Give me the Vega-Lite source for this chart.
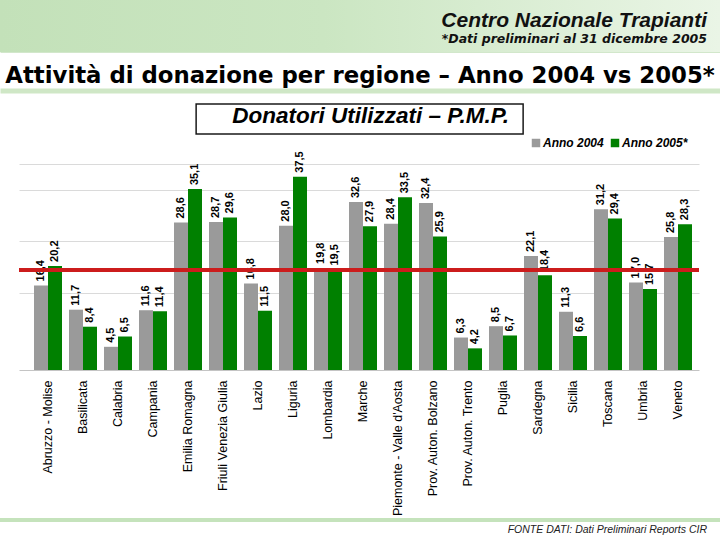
{
  "$schema": "https://vega.github.io/schema/vega-lite/v6.json",
  "background": "white",
  "padding": 0,
  "spacing": 0,
  "center": true,
  "config": {
    "locale": {"number": {"decimal": ",", "thousands": ".", "grouping": [3], "currency": ["", " €"]}},
    "view": {"stroke": null},
    "font": "Liberation Sans"
  },
  "resolve": {"scale": {"color": "independent"}, "legend": {"color": "independent"}},
  "vconcat": [
    {
      "width": 720,
      "height": 52,
      "data": {"values": [{}]},
      "title": {
        "text": "Centro Nazionale Trapianti",
        "subtitle": "*Dati preliminari al 31 dicembre 2005",
        "orient": "top",
        "anchor": "end",
        "frame": "group",
        "offset": -45.6,
        "dx": -13,
        "font": "Liberation Sans",
        "fontSize": 21,
        "fontStyle": "italic",
        "fontWeight": "bold",
        "color": "#111111",
        "subtitleFont": "DejaVu Sans",
        "subtitleFontSize": 12.5,
        "subtitleFontStyle": "italic",
        "subtitleFontWeight": "bold",
        "subtitleColor": "#111111",
        "subtitlePadding": 2
      },
      "mark": {
        "type": "rect",
        "color": {
          "gradient": "linear",
          "x1": 0, "y1": 0, "x2": 1, "y2": 0,
          "stops": [
            {"offset": 0, "color": "#c3e1b9"},
            {"offset": 0.45, "color": "#cbe6c2"},
            {"offset": 1, "color": "#eaf5e6"}
          ]
        }
      },
      "encoding": {
        "x": {"datum": 0, "type": "quantitative", "scale": {"domain": [0, 1], "nice": false, "zero": false},
              "axis": {"orient": "bottom", "labels": false, "ticks": false, "grid": false, "title": null,
                       "domainColor": "#a6cf98", "domainWidth": 2, "offset": -1, "minExtent": 0, "maxExtent": 0}},
        "x2": {"datum": 1},
        "y": {"datum": 0, "type": "quantitative", "scale": {"domain": [0, 1], "nice": false, "zero": false}, "axis": null},
        "y2": {"datum": 1}
      }
    },
    {
      "width": 720,
      "height": 36,
      "data": {"values": [{}]},
      "mark": {
        "type": "text",
        "text": "Attività di donazione per regione – Anno 2004 vs 2005*",
        "font": "DejaVu Sans",
        "fontSize": 22.8,
        "fontWeight": "bold",
        "color": "#000000",
        "align": "center",
        "baseline": "alphabetic",
        "dy": 13
      },
      "encoding": {
        "x": {"datum": 0.5, "type": "quantitative", "scale": {"domain": [0, 1], "nice": false, "zero": false},
              "axis": {"orient": "bottom", "labels": false, "ticks": false, "grid": false, "title": null,
                       "domainColor": "#cfe7c6", "domainWidth": 5, "offset": 2.5, "minExtent": 12.5}}
      }
    },
    {
      "width": 327,
      "height": 30,
      "view": {"stroke": "#1a1a1a", "strokeWidth": 1.5, "fill": "white"},
      "data": {"values": [{}]},
      "mark": {
        "type": "text",
        "text": "Donatori Utilizzati – P.M.P.",
        "font": "Liberation Sans",
        "fontSize": 22.5,
        "fontStyle": "italic",
        "fontWeight": "bold",
        "color": "#000000",
        "align": "center",
        "baseline": "alphabetic",
        "dx": 11,
        "dy": 4
      }
    },
    {
      "width": 680,
      "height": 235,
      "data": {
        "values": [
          {"regione": "Abruzzo - Molise", "anno": "Anno 2004", "valore": 16.4},
          {"regione": "Abruzzo - Molise", "anno": "Anno 2005*", "valore": 20.2},
          {"regione": "Basilicata", "anno": "Anno 2004", "valore": 11.7},
          {"regione": "Basilicata", "anno": "Anno 2005*", "valore": 8.4},
          {"regione": "Calabria", "anno": "Anno 2004", "valore": 4.5},
          {"regione": "Calabria", "anno": "Anno 2005*", "valore": 6.5},
          {"regione": "Campania", "anno": "Anno 2004", "valore": 11.6},
          {"regione": "Campania", "anno": "Anno 2005*", "valore": 11.4},
          {"regione": "Emilia Romagna", "anno": "Anno 2004", "valore": 28.6},
          {"regione": "Emilia Romagna", "anno": "Anno 2005*", "valore": 35.1},
          {"regione": "Friuli Venezia Giulia", "anno": "Anno 2004", "valore": 28.7},
          {"regione": "Friuli Venezia Giulia", "anno": "Anno 2005*", "valore": 29.6},
          {"regione": "Lazio", "anno": "Anno 2004", "valore": 16.8},
          {"regione": "Lazio", "anno": "Anno 2005*", "valore": 11.5},
          {"regione": "Liguria", "anno": "Anno 2004", "valore": 28.0},
          {"regione": "Liguria", "anno": "Anno 2005*", "valore": 37.5},
          {"regione": "Lombardia", "anno": "Anno 2004", "valore": 19.8},
          {"regione": "Lombardia", "anno": "Anno 2005*", "valore": 19.5},
          {"regione": "Marche", "anno": "Anno 2004", "valore": 32.6},
          {"regione": "Marche", "anno": "Anno 2005*", "valore": 27.9},
          {"regione": "Piemonte - Valle d'Aosta", "anno": "Anno 2004", "valore": 28.4},
          {"regione": "Piemonte - Valle d'Aosta", "anno": "Anno 2005*", "valore": 33.5},
          {"regione": "Prov. Auton. Bolzano", "anno": "Anno 2004", "valore": 32.4},
          {"regione": "Prov. Auton. Bolzano", "anno": "Anno 2005*", "valore": 25.9},
          {"regione": "Prov. Auton. Trento", "anno": "Anno 2004", "valore": 6.3},
          {"regione": "Prov. Auton. Trento", "anno": "Anno 2005*", "valore": 4.2},
          {"regione": "Puglia", "anno": "Anno 2004", "valore": 8.5},
          {"regione": "Puglia", "anno": "Anno 2005*", "valore": 6.7},
          {"regione": "Sardegna", "anno": "Anno 2004", "valore": 22.1},
          {"regione": "Sardegna", "anno": "Anno 2005*", "valore": 18.4},
          {"regione": "Sicilia", "anno": "Anno 2004", "valore": 11.3},
          {"regione": "Sicilia", "anno": "Anno 2005*", "valore": 6.6},
          {"regione": "Toscana", "anno": "Anno 2004", "valore": 31.2},
          {"regione": "Toscana", "anno": "Anno 2005*", "valore": 29.4},
          {"regione": "Umbria", "anno": "Anno 2004", "valore": 17.0},
          {"regione": "Umbria", "anno": "Anno 2005*", "valore": 15.7},
          {"regione": "Veneto", "anno": "Anno 2004", "valore": 25.8},
          {"regione": "Veneto", "anno": "Anno 2005*", "valore": 28.3}
        ]
      },
      "layer": [
        {
          "mark": {"type": "bar"},
          "encoding": {
            "x": {
              "field": "regione", "type": "nominal", "sort": null, "title": null,
              "scale": {"paddingInner": 0.2, "paddingOuter": 0.3143, "align": 0.682},
              "axis": {
                "labelAngle": -90, "labelFont": "Liberation Sans", "labelFontSize": 12.5,
                "labelColor": "#000000", "labelPadding": 10, "ticks": false, "tickSize": 0,
                "domainColor": "#c4c4c4", "domainWidth": 1, "grid": false,
                "minExtent": 148, "labelLimit": 300
              }
            },
            "xOffset": {"field": "anno", "type": "nominal", "sort": null},
            "y": {
              "field": "valore", "type": "quantitative",
              "scale": {"domain": [0, 45.6], "nice": false},
              "axis": {"values": [15, 25, 35, 40], "labels": false, "ticks": false,
                       "domain": false, "title": null, "grid": true, "gridColor": "#dadada", "gridWidth": 1}
            },
            "color": {
              "field": "anno", "type": "nominal",
              "scale": {"domain": ["Anno 2004", "Anno 2005*"], "range": ["#9a9a9a", "#008000"]},
              "legend": {
                "orient": "none", "legendX": 511, "legendY": 2, "direction": "horizontal",
                "title": null, "symbolType": "square", "symbolSize": 72, "symbolStrokeWidth": 0,
                "symbolOpacity": 1,
                "labelFont": "Liberation Sans", "labelFontSize": 12, "labelFontStyle": "italic",
                "labelFontWeight": "bold", "labelColor": "#000000", "columnPadding": 5,
                "labelOffset": 1, "padding": 0
              }
            }
          }
        },
        {
          "mark": {"type": "text", "angle": 270, "align": "left", "baseline": "middle", "dx": 4,
                   "font": "Liberation Sans", "fontSize": 11, "fontWeight": "bold", "color": "#000000"},
          "encoding": {
            "x": {"field": "regione", "type": "nominal", "sort": null},
            "xOffset": {"field": "anno", "type": "nominal", "sort": null},
            "y": {"field": "valore", "type": "quantitative"},
            "text": {"field": "valore", "type": "quantitative", "format": ".1f"}
          }
        },
        {
          "data": {"values": [{"media": 19.4}]},
          "mark": {"type": "rule", "color": "#cc1c1c", "strokeWidth": 4},
          "encoding": {"y": {"field": "media", "type": "quantitative"}}
        }
      ]
    },
    {
      "width": 720,
      "height": 4,
      "data": {"values": [{}]},
      "title": {
        "text": "FONTE DATI: Dati Preliminari Reports CIR",
        "orient": "bottom",
        "anchor": "end",
        "frame": "group",
        "offset": 3,
        "dx": -13,
        "font": "Liberation Sans",
        "fontSize": 10.5,
        "fontStyle": "italic",
        "fontWeight": "normal",
        "color": "#222222"
      },
      "mark": {"type": "rect", "color": "#c5e3bc"},
      "encoding": {
        "x": {"datum": 0, "type": "quantitative", "scale": {"domain": [0, 1], "nice": false, "zero": false}, "axis": null},
        "x2": {"datum": 1},
        "y": {"datum": 0, "type": "quantitative", "scale": {"domain": [0, 1], "nice": false, "zero": false}, "axis": null},
        "y2": {"datum": 1}
      }
    }
  ]
}
